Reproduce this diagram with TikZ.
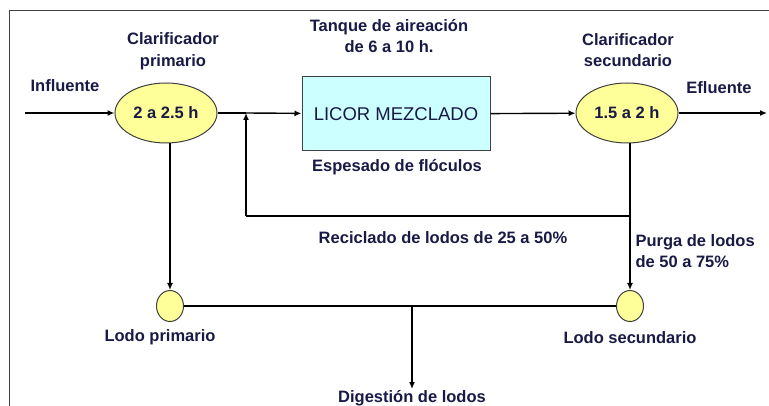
\documentclass[tikz,border=0pt]{standalone}
\usepackage{fontspec}
\setmainfont{Liberation Sans}
\usetikzlibrary{shapes.geometric,arrows.meta}
\definecolor{navy}{RGB}{25,25,70}
\definecolor{paleyellow}{RGB}{255,255,153}
\definecolor{palecyan}{RGB}{204,255,255}
\begin{document}
\begin{tikzpicture}[x=1pt,y=-1pt]
            \tikzstyle{every node}=[font=\fontsize{16.5}{21.5}\selectfont\bfseries, text=navy, align=center]
            \tikzstyle{tank}=[ellipse, fill=paleyellow, draw=darkgray, line width=1pt, minimum width=102pt, minimum height=60pt, inner sep=0pt]
            \tikzstyle{sludge}=[ellipse, fill=paleyellow, draw=darkgray, line width=1pt, minimum width=27pt, minimum height=31pt, inner sep=0pt]
            \tikzstyle{flow}=[black, line width=1.4pt, -{Latex[length=7pt,width=6pt]}]
            \tikzstyle{pipe}=[black, line width=1.4pt]

            \useasboundingbox (0,0) rectangle (769,406);
            \draw[darkgray, line width=1.8pt] (9.5,406) -- (9.5,10.5) -- (769,10.5);

            \node[tank] (cp) at (166,113) {2 a 2.5 h};
            \node[draw=darkgray, fill=palecyan, line width=1pt, minimum width=188pt, minimum height=74pt, font=\fontsize{18.5}{22}\selectfont] (aer) at (396,114) {LICOR MEZCLADO};
            \node[tank] (cs) at (627,113) {1.5 a 2 h};
            \node[sludge] (lp) at (170,306) {};
            \node[sludge] (ls) at (630,306) {};

            \coordinate (in) at (25,113);
            \coordinate (out) at (767,113);
            \coordinate (jun) at (246,113);
            \coordinate (rb) at (246,216);
            \coordinate (rs) at (630,216);
            \coordinate (dig) at (412,307);

            \node (inlab) at (65,86) {Influente};
            \node (cplab) at (173,51) {Clarificador\\primario};
            \node (aerlab) at (389,36) {Tanque de aireación\\de 6 a 10 h.};
            \node (floclab) at (397,167) {Espesado de flóculos};
            \node (cslab) at (628,50) {Clarificador\\secundario};
            \node (outlab) at (719,88) {Efluente};
            \node (reclab) at (443,238) {Reciclado de lodos de 25 a 50\%};
            \node[anchor=west, align=left] (purlab) at (632,251) {Purga de lodos\\de 50 a 75\%};
            \node (lplab) at (160,337) {Lodo primario};
            \node (lslab) at (630,338) {Lodo secundario};
            \node[inner sep=1pt] (digest) at (412,398) {Digestión de lodos};

            \draw[flow] (in) -- (cp);
            \draw[pipe] (cp.east) -- (jun);
            \draw[flow] (jun) -- (aer);
            \draw[flow] (aer) -- (cs);
            \draw[flow] (cs) -- (out);
            \draw[pipe] (cs.south -| rs) -- (rs) -- (rb);
            \draw[flow] (rb) -- (jun);
            \draw[flow] (rs) -- (ls);
            \draw[flow] (cp.south -| lp) -- (lp);
            \draw[pipe] (lp) -- (ls);
            \draw[flow] (dig) -- (digest);
        \end{tikzpicture}
\end{document}
